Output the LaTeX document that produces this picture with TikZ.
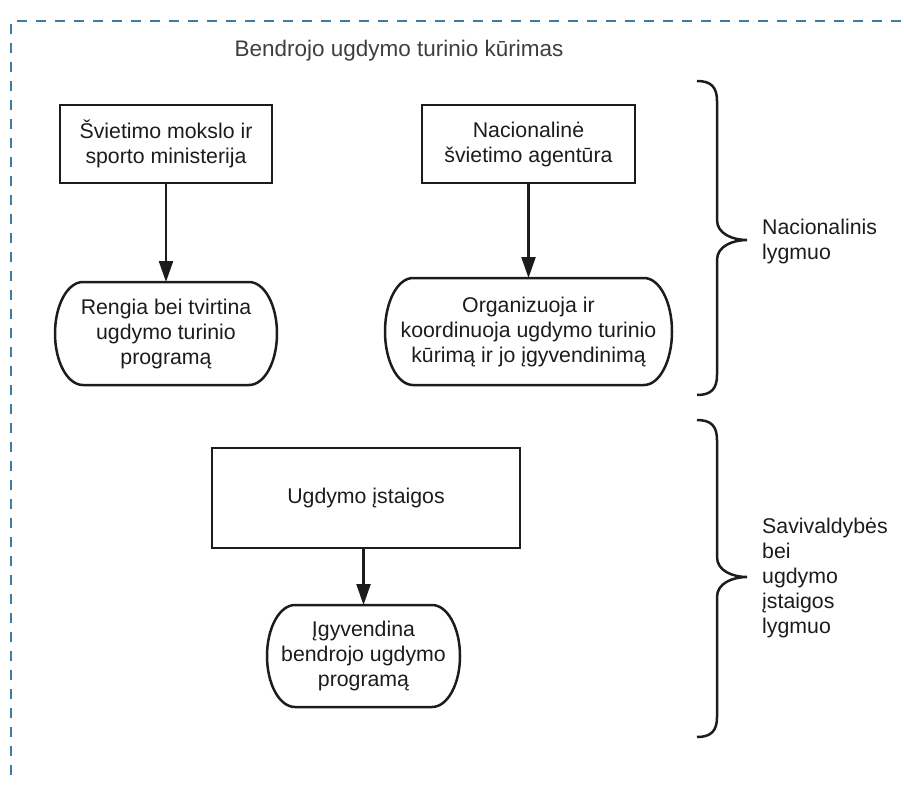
\documentclass[tikz,border=0pt]{standalone}
\usepackage{fontspec}
\setmainfont{Liberation Sans}
\usetikzlibrary{arrows.meta,calc}
\definecolor{frameblue}{RGB}{62,125,160}
\definecolor{inkgray}{RGB}{28,28,28}

\begin{document}
\begin{tikzpicture}[x=1pt,y=-1pt,>={Triangle[width=14pt,length=21pt]},
    txt/.style={font=\fontsize{21.3pt}{25pt}\selectfont, text=inkgray, align=center},
    org/.style={txt, draw=inkgray, line width=2.5pt, rectangle, inner sep=2pt},
    act/.style={txt, rectangle, inner sep=2pt, outer sep=0pt},
    actline/.style={draw=inkgray, line width=2.5pt},
    lvl/.style={txt, align=left, anchor=west, inner sep=0pt},
    conn/.style={->, line width=2.3pt, draw=inkgray}]
        \useasboundingbox (0,0) rectangle (904,785);
        \draw[frameblue, line width=2.4pt, dash pattern=on 10pt off 9pt] (11,775) -- (11,21) -- (904,21);
        \node[txt, font=\fontsize{22.5pt}{26pt}\selectfont, text=inkgray!85] (title) at (399,51) {Bendrojo ugdymo turinio kūrimas};

        \node[org, minimum width=212pt, minimum height=78pt] (ministerija) at (166,144) {Švietimo mokslo ir\\sporto ministerija};
        \node[org, minimum width=213pt, minimum height=78pt] (agentura) at (528.5,144) {Nacionalinė\\švietimo agentūra};
        \node[act, minimum width=222pt, minimum height=103pt] (rengia) at (166,333.5) {Rengia bei tvirtina\\ugdymo turinio\\programą};
        \node[act, minimum width=287pt, minimum height=107pt] (organizuoja) at (528.5,331.5) {Organizuoja ir\\koordinuoja ugdymo turinio\\kūrimą ir jo įgyvendinimą};
        \node[org, minimum width=308pt, minimum height=100pt] (istaigos) at (366,498) {Ugdymo įstaigos};
        \node[act, minimum width=193pt, minimum height=102pt] (igyvendina) at (363.5,656) {Įgyvendina\\bendrojo ugdymo\\programą};
%        \node[act] (igyvendina) [below=of istaigos] {Įgyvendina};

        % terminator outlines, half-ellipse ends
        \foreach \n in {rengia,organizuoja,igyvendina}
            \draw[actline] ([xshift=28pt]\n.north west) -- ([xshift=-28pt]\n.north east)
                .. controls ([xshift=-12.5pt]\n.north east) and ($(\n.east)!0.552!(\n.north east)$) .. (\n.east)
                .. controls ($(\n.east)!0.552!(\n.south east)$) and ([xshift=-12.5pt]\n.south east) .. ([xshift=-28pt]\n.south east)
                -- ([xshift=28pt]\n.south west)
                .. controls ([xshift=12.5pt]\n.south west) and ($(\n.west)!0.552!(\n.south west)$) .. (\n.west)
                .. controls ($(\n.west)!0.552!(\n.north west)$) and ([xshift=12.5pt]\n.north west) .. ([xshift=28pt]\n.north west)
                -- cycle;

        \draw[conn] (ministerija) -- (rengia);
        \draw[conn] (agentura) -- (organizuoja);
        \draw[conn] (igyvendina.north |- istaigos.south) -- (igyvendina);

        \foreach \t/\m/\b in {81/240/395, 420/577/737}
            \draw[line width=2.5pt, inkgray] (697,\t) .. controls (711,\t) and (717,\t+6) .. (717,\t+20)
                -- (717,\m-20) .. controls (717,\m-6) and (733,\m) .. (747,\m)
                .. controls (733,\m) and (717,\m+6) .. (717,\m+20)
                -- (717,\b-20) .. controls (717,\b-6) and (711,\b) .. (697,\b);
        \node[lvl] (natlvl) at (762,241) {Nacionalinis\\lygmuo};
        \node[lvl] (savlvl) at (762,578) {Savivaldybės\\bei\\ugdymo\\įstaigos\\lygmuo};
    \end{tikzpicture}
\end{document}
